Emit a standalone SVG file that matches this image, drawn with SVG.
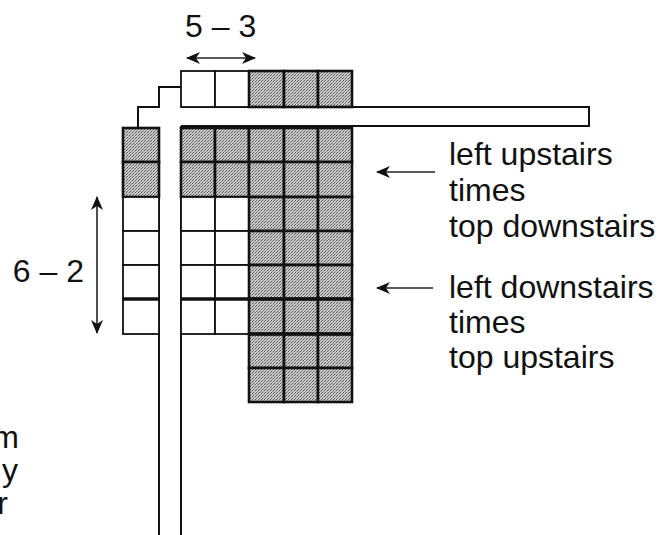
<svg xmlns="http://www.w3.org/2000/svg" width="666" height="535" viewBox="0 0 666 535">
<defs>
<pattern id="stip" width="3" height="3" patternUnits="userSpaceOnUse">
<rect width="3" height="3" fill="#cdcdcd"/>
<rect x="0" y="0" width="1" height="1" fill="#555"/>
<rect x="1" y="2" width="1" height="1" fill="#555"/>
<rect x="2" y="1" width="1" height="1" fill="#8a8a8a"/>
</pattern>
<marker id="ah" viewBox="0 0 14 12" refX="13" refY="6" markerWidth="14" markerHeight="12" markerUnits="userSpaceOnUse" orient="auto-start-reverse">
<path d="M0,0 L14,6 L0,12 L4,6 Z" fill="#111"/>
</marker>
</defs>
<style>
.g{fill:url(#stip);stroke:#111;stroke-width:2.6}
.w{fill:#fff;stroke:#111;stroke-width:1.8}
.ln{fill:none;stroke:#111;stroke-width:2}
.thick{fill:none;stroke:#111;stroke-width:3.5}
.arr{fill:none;stroke:#222;stroke-width:1.6}
text{font-family:"Liberation Sans",Arial,sans-serif;fill:#111}
.t{font-size:32px}
</style>

<g id="bars">
<path class="ln" d="M181,87 H159 V107 H138 V128 H159"/>
<path class="ln" d="M181,107 H589 V126 H181"/>
<path class="ln" d="M159,128 V535"/>
<path class="ln" d="M181,126 V535"/>
</g>

<g id="top-row">
<rect class="w" x="181" y="71" width="34" height="36"/>
<rect class="w" x="215" y="71" width="34" height="36"/>
<rect class="g" x="249" y="71" width="35" height="36"/>
<rect class="g" x="284" y="71" width="34" height="36"/>
<rect class="g" x="318" y="71" width="34" height="36"/>
</g>

<g id="left-column">
<rect class="g" x="123" y="128" width="36" height="34"/>
<rect class="g" x="123" y="162" width="36" height="35"/>
<rect class="w" x="123" y="197" width="36" height="34"/>
<rect class="w" x="123" y="231" width="36" height="34"/>
<rect class="w" x="123" y="265" width="36" height="34"/>
<rect class="w" x="123" y="299" width="36" height="35"/>
<path class="thick" d="M123,299 H159"/>
</g>

<g id="main-grid">
<rect class="g" x="181" y="128" width="34" height="34"/>
<rect class="g" x="215" y="128" width="34" height="34"/>
<rect class="g" x="249" y="128" width="35" height="34"/>
<rect class="g" x="284" y="128" width="34" height="34"/>
<rect class="g" x="318" y="128" width="34" height="34"/>
<rect class="g" x="181" y="162" width="34" height="35"/>
<rect class="g" x="215" y="162" width="34" height="35"/>
<rect class="g" x="249" y="162" width="35" height="35"/>
<rect class="g" x="284" y="162" width="34" height="35"/>
<rect class="g" x="318" y="162" width="34" height="35"/>
<rect class="w" x="181" y="197" width="34" height="34"/>
<rect class="w" x="215" y="197" width="34" height="34"/>
<rect class="w" x="181" y="231" width="34" height="34"/>
<rect class="w" x="215" y="231" width="34" height="34"/>
<rect class="w" x="181" y="265" width="34" height="34"/>
<rect class="w" x="215" y="265" width="34" height="34"/>
<rect class="w" x="181" y="299" width="34" height="35"/>
<rect class="w" x="215" y="299" width="34" height="35"/>
<rect class="g" x="249" y="197" width="35" height="34"/>
<rect class="g" x="284" y="197" width="34" height="34"/>
<rect class="g" x="318" y="197" width="34" height="34"/>
<rect class="g" x="249" y="231" width="35" height="34"/>
<rect class="g" x="284" y="231" width="34" height="34"/>
<rect class="g" x="318" y="231" width="34" height="34"/>
<rect class="g" x="249" y="265" width="35" height="34"/>
<rect class="g" x="284" y="265" width="34" height="34"/>
<rect class="g" x="318" y="265" width="34" height="34"/>
<rect class="g" x="249" y="299" width="35" height="35"/>
<rect class="g" x="284" y="299" width="34" height="35"/>
<rect class="g" x="318" y="299" width="34" height="35"/>
<rect class="g" x="249" y="334" width="35" height="34"/>
<rect class="g" x="284" y="334" width="34" height="34"/>
<rect class="g" x="318" y="334" width="34" height="34"/>
<rect class="g" x="249" y="368" width="35" height="34"/>
<rect class="g" x="284" y="368" width="34" height="34"/>
<rect class="g" x="318" y="368" width="34" height="34"/>
<path class="thick" d="M181,299 H352 M249,334 H352"/>
</g>

<g id="connectors">
<path class="arr" d="M187,58 H255" marker-start="url(#ah)" marker-end="url(#ah)"/>
<path class="arr" d="M97,197 V333" marker-start="url(#ah)" marker-end="url(#ah)"/>
<path class="arr" d="M435,172 H377" marker-end="url(#ah)"/>
<path class="arr" d="M433,288 H377" marker-end="url(#ah)"/>
</g>

<g id="labels">
<text class="t" x="185" y="37">5 – 3</text>
<text class="t" x="84" y="282" text-anchor="end">6 – 2</text>
<text class="t" x="449" y="165">left upstairs</text>
<text class="t" x="449" y="201">times</text>
<text class="t" x="449" y="237">top downstairs</text>
<text class="t" x="449" y="298">left downstairs</text>
<text class="t" x="449" y="333">times</text>
<text class="t" x="449" y="368">top upstairs</text>
<text class="t" x="19" y="448" text-anchor="end">m</text>
<text class="t" x="18" y="481" text-anchor="end">y</text>
<text class="t" x="8" y="514" text-anchor="end">r</text>
</g>
</svg>
